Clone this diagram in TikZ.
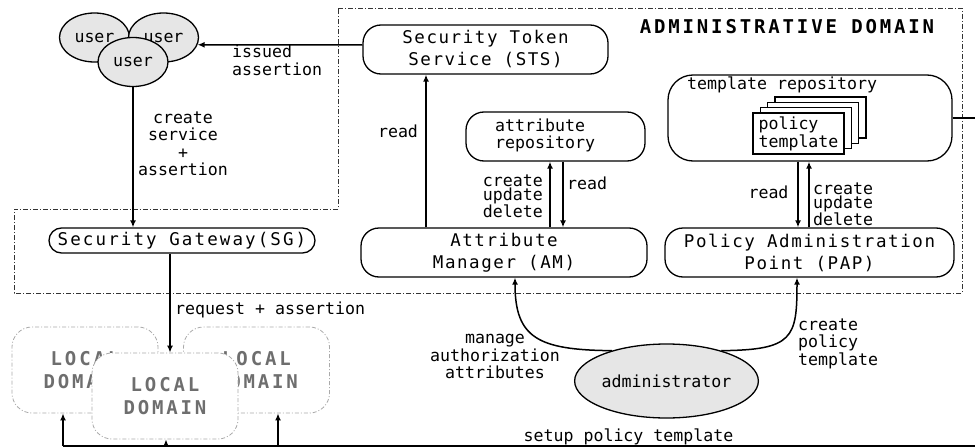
\documentclass[tikz,border=0pt]{standalone}
\usepackage{fontspec}
\usetikzlibrary{shapes.geometric,arrows.meta}
\newfontfamily\monof{DejaVu Sans Mono}
\newfontfamily\monowide[LetterSpace=9]{DejaVu Sans Mono}
\newfontfamily\monosg[LetterSpace=12]{DejaVu Sans Mono}
\newfontfamily\monotitle[LetterSpace=15]{DejaVu Sans Mono}
\definecolor{ellfill}{HTML}{E6E6E6}
\definecolor{ldtext}{HTML}{6E6E6E}
\definecolor{ldline}{HTML}{AAAAAA}
\begin{document}
\begin{tikzpicture}[x=1pt,y=-1pt,
  rbox/.style={draw, line width=1.3pt, rounded corners=18pt, inner sep=0pt},
  arr/.style={line width=1.5pt, -{Latex[length=7pt,width=6pt]}},
  ln/.style={line width=1.5pt},
  bigt/.style={font=\monowide\fontsize{17.5}{22}\selectfont, align=center},
  smallt/.style={font=\monof\fontsize{16.6}{17.5}\selectfont, inner sep=0pt},
  cudt/.style={font=\monof\fontsize{16.6}{13.7}\selectfont, inner sep=0pt},
  usr/.style={ellipse, draw, line width=1.3pt, fill=ellfill, inner sep=0pt,
    minimum width=70pt, minimum height=49pt, font=\monof\fontsize{16.6}{17.5}\selectfont},
  border/.style={line width=1pt, draw=black!80, dash pattern=on 5pt off 2pt on 1pt off 2pt},
  ldom/.style={draw=ldline, line width=0.8pt, dash pattern=on 4pt off 2pt on 1pt off 2pt,
    fill=white, rounded corners=20pt, minimum width=146pt, minimum height=86pt, inner sep=0pt,
    font=\monotitle\bfseries\fontsize{19}{23.5}\selectfont, text=ldtext, align=center},
  page/.style={draw, line width=1.3pt, fill=white, minimum width=91pt, minimum height=41pt, inner sep=0pt}
]
\useasboundingbox (0,0) rectangle (975,447);

% administrative domain border
\draw[border] (338,8) -- (962,8) -- (962,293) -- (14,293) -- (14,209) -- (338,209) -- cycle;
\node[font=\monotitle\bfseries\fontsize{19}{20}\selectfont, inner sep=0pt] (title) at (787,27) {ADMINISTRATIVE DOMAIN};

% users
\node[usr] (u1) at (94.5,37.5) {user};
\node[usr] (u2) at (163.5,37.5) {user};
\node[usr] (u3) at (133,62) {user};

% main boxes
\node[rbox, bigt, minimum width=245pt, minimum height=49pt] (sts) at (485.5,49.5) {Security Token\\Service (STS)};
\node[rbox, bigt, minimum width=286pt, minimum height=49pt] (am) at (504,252.5) {Attribute\\Manager (AM)};
\node[rbox, bigt, minimum width=289pt, minimum height=49pt] (pap) at (809.5,252.5) {Policy Administration\\Point (PAP)};
\node[rbox, rounded corners=12.5pt, font=\monosg\fontsize{17.5}{22}\selectfont, minimum width=266pt, minimum height=25pt] (sg) at (182,240.5) {Security Gateway(SG)};

% attribute repository
\node[rbox, minimum width=179pt, minimum height=49pt] (attr) at (555.5,136.5) {};
\node[smallt, font=\monof\fontsize{16.6}{17}\selectfont, align=left, anchor=west] (attrtxt) at (495,135.5) {attribute\\repository};

% template repository
\node[rbox, rounded corners=25pt, minimum width=284pt, minimum height=86pt] (tmpl) at (810,118) {};
\node[smallt, anchor=west] (tmpltxt) at (687,85) {template repository};
\node[page] (p4) at (820.4,117.6) {};
\node[page] (p3) at (813.1,122.9) {};
\node[page] (p2) at (805.8,128.2) {};
\node[page, align=left, font=\monof\fontsize{16.6}{18}\selectfont] (p1) at (798.5,133.5) {policy\\template};

% administrator
\node[ellipse, draw, line width=1.3pt, fill=ellfill, inner sep=0pt, minimum width=155pt, minimum height=74pt,
  font=\monof\fontsize{16.6}{17.5}\selectfont] (admin) at (666.5,381) {administrator};

% local domains
\node[ldom] (ld1) at (85,370) {LOCAL\\DOMAIN};
\node[ldom] (ld3) at (256.5,370) {LOCAL\\DOMAIN};
\node[ldom] (ld2) at (165,396) {LOCAL\\DOMAIN};

% helper coordinates
\coordinate (xa) at (426,0);
\coordinate (xb) at (550,0);
\coordinate (xc) at (563,0);
\coordinate (xd) at (798,0);
\coordinate (xe) at (809,0);
\coordinate (xf) at (170,0);
\coordinate (xg) at (515,0);
\coordinate (xh) at (797,0);
\coordinate (re1) at (975,118);
\coordinate (re2) at (975,446);
\coordinate (bl) at (63,446);
\coordinate (b2) at (166,446);
\coordinate (b3) at (278,446);

% connectors
\draw[arr] ([yshift=4.5pt]sts.west) -- (u2.-12.5);
\draw[arr] (u3.south) -- (u3.south |- sg.north);
\draw[arr] (am.north -| xa) -- (sts.south -| xa);
\draw[arr] (am.north -| xb) -- (attr.south -| xb);
\draw[arr] (attr.south -| xc) -- (am.north -| xc);
\draw[arr] (tmpl.south -| xd) -- (pap.north -| xd);
\draw[arr] (pap.north -| xe) -- (tmpl.south -| xe);
\draw[arr] (sg.south -| xf) -- (ld2.north -| xf);
\draw[arr] (admin.151) .. controls (538,350) and (515,338) .. (am.south -| xg);
\draw[arr] (admin.29) .. controls (793,350) and (797,338) .. (pap.south -| xh);
\draw[ln] (tmpl.east) -- (re1);
\draw[ln] (re2) -- (bl);
\draw[arr] (bl) -- (bl |- ld1.south);
\draw[arr] (b2) -- (b2 |- ld2.south);
\draw[arr] (b3) -- (b3 |- ld3.south);

% labels
\node[smallt, align=left, anchor=west] (l1) at (232,60.5) {issued\\assertion};
\node[smallt, align=center] (l2) at (183,144) {create\\service\\+\\assertion};
\node[smallt] (l3) at (398,131) {read};
\node[cudt, align=right, anchor=east] (l4) at (543,196.5) {create\\update\\delete};
\node[smallt, anchor=west] (l5) at (567,183) {read};
\node[smallt] (l6) at (768.5,192) {read};
\node[cudt, align=left, anchor=west] (l7) at (813,204.5) {create\\update\\delete};
\node[smallt, anchor=west] (l8) at (175,310) {request + assertion};
\node[smallt, align=center] (l9) at (495,356.5) {manage\\authorization\\attributes};
\node[smallt, align=left, anchor=west] (l10) at (798,343.5) {create\\policy\\template};
\node[smallt] (l11) at (628.5,437) {setup policy template};
\end{tikzpicture}
\end{document}
